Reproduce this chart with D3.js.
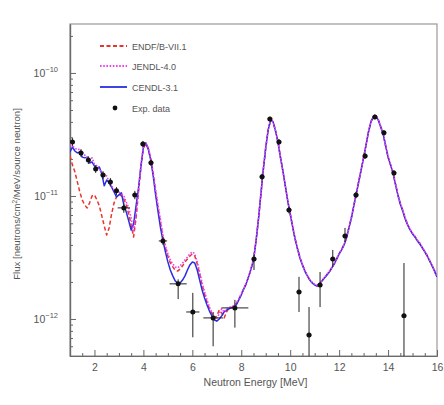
<!DOCTYPE html>
<html>
<head>
<meta charset="utf-8">
<script src="https://cdn.jsdelivr.net/npm/d3@7"></script>
<style>
  html, body { margin: 0; padding: 0; background: #fff; }
  svg { display: block; }
  text { font-family: "Liberation Sans", Arial, sans-serif; fill: #555; }
</style>
</head>
<body>
<svg id="chart" width="444" height="405"></svg>
<script>
// Flux values are given in units of 1e-12 neutrons/cm²/MeV/source neutron.
const FLUX_UNIT = 1e-12;

// Neutron energy grid of the calculated spectra [MeV]
const energy = [
  1.0,1.1,1.2,1.3,1.4,1.5,1.6,1.7,1.8,1.9,
  2.0,2.1,2.2,2.3,2.4,2.5,2.6,2.7,2.8,2.9,
  3.0,3.1,3.2,3.3,3.4,3.5,3.6,3.7,3.8,3.9,
  4.0,4.1,4.2,4.3,4.4,4.5,4.6,4.7,4.8,4.9,
  5.0,5.1,5.2,5.3,5.4,5.5,5.6,5.7,5.8,5.9,
  6.0,6.1,6.2,6.3,6.4,6.5,6.6,6.7,6.8,6.9,
  7.0,7.1,7.2,7.3,7.4,7.5,7.6,7.7,7.8,7.9,
  8.0,8.1,8.2,8.3,8.4,8.5,8.6,8.7,8.8,8.9,
  9.0,9.1,9.2,9.3,9.4,9.5,9.6,9.7,9.8,9.9,
  10.0,10.1,10.2,10.3,10.4,10.5,10.6,10.7,10.8,10.9,
  11.0,11.1,11.2,11.3,11.4,11.5,11.6,11.7,11.8,11.9,
  12.0,12.1,12.2,12.3,12.4,12.5,12.6,12.7,12.8,12.9,
  13.0,13.1,13.2,13.3,13.4,13.5,13.6,13.7,13.8,13.9,
  14.0,14.1,14.2,14.3,14.4,14.5,14.6,14.7,14.8,14.9,
  15.0,15.1,15.2,15.3,15.4,15.5,15.6,15.7,15.8,15.9,
  16.0
];

// ENDF/B-VII.1
const fluxENDF = [
  21.1,17.9,15.7,13.0,10.8,9.28,8.45,7.99,8.77,10.0,
  10.2,9.28,8.3,6.88,5.70,4.82,5.50,7.14,8.77,9.8,
  10.4,10.0,9.46,8.45,7.14,5.81,4.64,6.62,10.8,17.2,
  24.6,26.5,24.1,20.0,15.1,10.8,7.99,6.03,4.64,3.78,
  3.25,2.85,2.65,2.50,2.45,2.55,2.70,2.91,3.07,3.25,
  3.38,3.25,2.80,2.32,1.89,1.60,1.37,1.21,1.10,1.02,
  1.06,1.18,1.12,1.02,1.14,1.23,1.24,1.27,1.33,1.45,
  1.58,1.76,1.94,2.21,2.56,3.03,4.25,6.4,10.2,16.3,
  24.6,34.5,41.6,40.1,33.9,27.6,20.7,16.0,12.1,9.15,
  7.16,5.62,4.48,3.72,3.14,2.76,2.46,2.25,2.08,1.97,
  1.9,1.86,1.94,2.05,2.16,2.29,2.42,2.61,2.81,3.08,
  3.39,3.65,4.01,4.56,5.51,6.63,8.32,10.45,13.05,16.35,
  20.45,26.05,33.2,40.1,44.0,44.8,41.6,36.5,32.0,25.6,
  20.8,18.0,15.5,12.6,10.25,8.65,7.6,6.55,5.85,5.32,
  4.94,4.67,4.34,4.1,3.8,3.53,3.27,2.98,2.72,2.46,
  2.21
];

// JENDL-4.0
const fluxJENDL = [
  26.0,25.5,24.6,23.7,24.1,21.95,21.5,20.4,19.6,20.4,
  18.2,17.5,16.3,15.7,14.3,14.55,13.0,12.1,11.2,11.0,
  10.8,10.4,10.0,8.93,7.99,6.62,5.10,7.01,11.2,17.9,
  25.0,27.0,24.6,20.4,15.4,11.2,8.3,6.38,4.73,3.92,
  3.38,3.02,2.80,2.65,2.60,2.70,2.85,3.02,3.19,3.38,
  3.51,3.38,2.91,2.41,1.96,1.66,1.43,1.25,1.12,1.04,
  1.02,1.10,1.21,1.14,1.21,1.25,1.25,1.28,1.35,1.46,
  1.60,1.77,1.95,2.22,2.58,3.05,4.3,6.45,10.3,16.4,
  24.8,34.6,41.8,40.2,33.9,27.7,20.8,16.1,12.2,9.2,
  7.2,5.65,4.5,3.74,3.16,2.77,2.47,2.26,2.09,1.98,
  1.91,1.88,1.95,2.07,2.18,2.31,2.44,2.63,2.83,3.1,
  3.4,3.66,4.03,4.58,5.52,6.65,8.35,10.5,13.1,16.4,
  20.5,26.1,33.3,40.3,44.2,45.0,41.8,36.7,32.2,25.7,
  20.9,18.1,15.6,12.7,10.3,8.7,7.65,6.6,5.9,5.36,
  4.97,4.7,4.37,4.13,3.83,3.55,3.29,3.0,2.74,2.48,
  2.23
];

// CENDL-3.1
const fluxCENDL = [
  22.8,25.0,23.2,22.4,22.8,20.7,20.4,20.7,18.55,18.9,
  17.5,16.9,17.2,15.1,12.1,13.5,12.8,11.8,10.8,9.8,
  10.2,10.6,8.45,7.41,6.27,5.29,5.92,8.3,11.6,17.5,
  25.0,27.0,24.1,19.6,14.55,10.2,7.41,5.5,4.31,3.51,
  2.91,2.50,2.24,2.04,1.96,1.96,2.07,2.24,2.50,2.75,
  2.91,2.85,2.50,2.07,1.72,1.48,1.30,1.16,1.06,0.98,
  0.96,1.0,1.06,1.14,1.18,1.21,1.23,1.25,1.30,1.43,
  1.57,1.75,1.93,2.20,2.55,3.02,4.23,6.38,10.2,16.3,
  24.6,34.4,41.5,40.0,33.8,27.5,20.7,16.0,12.1,9.1,
  7.14,5.60,4.47,3.71,3.13,2.75,2.45,2.24,2.07,1.96,
  1.89,1.85,1.93,2.04,2.15,2.28,2.41,2.60,2.80,3.07,
  3.38,3.64,4.0,4.55,5.50,6.62,8.3,10.4,13.0,16.3,
  20.4,26.0,33.1,40.0,43.9,44.7,41.5,36.4,31.9,25.5,
  20.7,17.9,15.4,12.5,10.2,8.6,7.55,6.50,5.81,5.29,
  4.91,4.64,4.31,4.07,3.78,3.51,3.25,2.96,2.70,2.45,
  2.20
];

// Measured spectrum: energy, flux, flux error limits and energy half-width
const expEnergy = [1.1,1.45,1.75,2.05,2.35,2.65,2.9,3.2,3.65,3.98,4.31,4.8,5.42,6.02,6.85,7.74,
                   8.52,8.85,9.17,9.54,9.95,10.36,10.77,11.22,11.74,12.24,12.69,13.06,13.46,13.83,14.24,14.65];
const expFlux   = [27.5,22.4,19.6,16.6,14.8,13.0,11.0,8.0,10.2,26.5,18.6,4.31,1.93,1.14,1.02,1.23,
                   3.07,14.3,42.3,27.5,7.7,1.66,0.74,1.89,3.07,4.73,10.2,21.1,43.9,32.6,15.4,1.06];
const expFluxLo = [25.5,20.8,18.2,15.4,13.7,12.0,10.2,7.3,9.4,25.0,17.5,4.0,1.45,0.71,0.6,0.85,
                   2.5,13.4,40.5,26.0,7.2,1.14,0.4,1.25,2.65,4.23,9.6,20.0,42.0,31.0,14.6,0.4];
const expFluxHi = [29.5,24.0,21.0,17.8,15.9,14.0,11.8,8.7,11.0,28.0,19.7,4.6,2.1,1.63,1.14,1.43,
                   3.3,15.2,44.0,29.0,8.2,2.2,1.25,2.41,3.64,5.5,10.8,22.2,46.0,34.2,16.2,2.85];
const expEHalf  = [0.1,0.1,0.1,0.1,0.1,0.1,0.1,0.25,0.1,0.1,0.1,0.17,0.35,0.27,0.4,0.55,
                   0.1,0.1,0.1,0.1,0.1,0.1,0.1,0.1,0.1,0.1,0.1,0.1,0.1,0.1,0.1,0.1];

// Axis ticks
const xMajorTicks = [2, 4, 6, 8, 10, 12, 14, 16];
const xMinorTicks = [1.5, 2.5, 3, 3.5, 4.5, 5, 5.5, 6.5, 7, 7.5, 8.5, 9, 9.5, 10.5, 11, 11.5,
                     12.5, 13, 13.5, 14.5, 15, 15.5];
const yMajorTicks = [1e-12, 1e-11, 1e-10];
const yMajorExponents = ["\u221212", "\u221211", "\u221210"];

const series = [
  { name: "ENDF/B-VII.1", values: fluxENDF,  color: "#e8352c", width: 1.5, dash: "4,2.5" },
  { name: "JENDL-4.0",    values: fluxJENDL, color: "#f040f0", width: 1.6, dash: "1.6,1.6" },
  { name: "CENDL-3.1",    values: fluxCENDL, color: "#2a2ee0", width: 1.5, dash: null }
];
// Drawing order: red dashes at the bottom, magenta dots over the blue line
const drawOrder = [0, 2, 1];

const svg = d3.select("#chart");
const plotLeft = 70, plotRight = 437, plotTop = 24, plotBottom = 356;

const x = d3.scaleLinear().domain([1, 16]).range([plotLeft, plotRight]);
const y = d3.scaleLog().domain([5e-13, 2.5e-10]).range([plotBottom, plotTop]);

svg.append("rect").attr("width", 444).attr("height", 405).attr("fill", "#fff");

svg.append("defs").append("clipPath").attr("id", "plot-clip")
  .append("rect").attr("x", plotLeft).attr("y", plotTop)
  .attr("width", plotRight - plotLeft).attr("height", plotBottom - plotTop);

// Frame
svg.append("rect")
  .attr("x", plotLeft).attr("y", plotTop)
  .attr("width", plotRight - plotLeft).attr("height", plotBottom - plotTop)
  .attr("fill", "none").attr("stroke", "#999").attr("stroke-width", 1.2);

// Bottom axis: major and minor ticks pointing inward
const xAxis = svg.append("g").attr("transform", `translate(0,${plotBottom})`)
  .call(d3.axisBottom(x).tickValues(xMajorTicks).tickSize(-6).tickSizeOuter(0).tickPadding(8)
    .tickFormat(d3.format("d")));
svg.append("g").attr("transform", `translate(0,${plotBottom})`)
  .call(d3.axisBottom(x).tickValues(xMinorTicks).tickSize(-3).tickSizeOuter(0).tickFormat(""));

// Left axis: decades with log minor ticks
const yMinorTicks = y.ticks().filter(v => !yMajorTicks.some(m => Math.abs(v / m - 1) < 1e-6));
svg.append("g").attr("transform", `translate(${plotLeft},0)`)
  .call(d3.axisLeft(y).tickValues(yMajorTicks).tickSize(-6).tickSizeOuter(0).tickFormat(""));
svg.append("g").attr("transform", `translate(${plotLeft},0)`)
  .call(d3.axisLeft(y).tickValues(yMinorTicks).tickSize(-3).tickSizeOuter(0).tickFormat(""));

svg.selectAll(".domain").attr("stroke", "#6a6a6a").attr("stroke-width", 1.2);
svg.selectAll(".tick line").attr("stroke", "#666").attr("stroke-width", 1);
xAxis.selectAll(".tick text")
  .style("font-family", "'Liberation Sans', Arial, sans-serif")
  .style("font-size", "10.5px").attr("fill", "#555");

// Power-of-ten labels
yMajorTicks.forEach((v, i) => {
  const t = svg.append("text")
    .attr("x", plotLeft - 12).attr("y", y(v) + 4)
    .attr("text-anchor", "end").style("font-size", "10.5px");
  t.append("tspan").text("10");
  t.append("tspan").attr("dy", -5).style("font-size", "7.5px").text(yMajorExponents[i]);
});

// Axis titles
svg.append("text")
  .attr("x", (plotLeft + plotRight) / 2 + 2).attr("y", 386)
  .attr("text-anchor", "middle").style("font-size", "10.5px")
  .text("Neutron Energy [MeV]");
svg.append("text")
  .attr("transform", `translate(20,${(plotTop + plotBottom) / 2 + 4}) rotate(-90)`)
  .attr("text-anchor", "middle").style("font-size", "9.6px")
  .html("Flux [neutrons/cm<tspan dy='-3' style='font-size:6.5px'>2</tspan><tspan dy='3'>/MeV/source neutron]</tspan>");

// Calculated spectra
const plot = svg.append("g").attr("clip-path", "url(#plot-clip)");
const line = d3.line()
  .x((d, i) => x(energy[i]))
  .y(d => y(d * FLUX_UNIT));

drawOrder.map(i => series[i]).forEach(s => {
  plot.append("path")
    .datum(s.values)
    .attr("d", line)
    .attr("fill", "none")
    .attr("stroke", s.color)
    .attr("stroke-width", s.width)
    .attr("stroke-dasharray", s.dash)
    .attr("stroke-linejoin", "round");
});

// Measured points with error bars
const expGroup = plot.append("g");
expEnergy.forEach((e, i) => {
  const cx = x(e), cy = y(expFlux[i] * FLUX_UNIT);
  expGroup.append("line")
    .attr("x1", cx).attr("x2", cx)
    .attr("y1", Math.min(plotBottom, y(expFluxLo[i] * FLUX_UNIT)))
    .attr("y2", y(expFluxHi[i] * FLUX_UNIT))
    .attr("stroke", "#222").attr("stroke-width", 1);
  expGroup.append("line")
    .attr("x1", x(e - expEHalf[i])).attr("x2", x(e + expEHalf[i]))
    .attr("y1", cy).attr("y2", cy)
    .attr("stroke", "#222").attr("stroke-width", 1);
  expGroup.append("circle")
    .attr("cx", cx).attr("cy", cy).attr("r", 2.5)
    .attr("fill", "#111");
});

// Legend
const legend = svg.append("g");
const legendY = [46, 66, 87, 108];
series.forEach((s, i) => {
  legend.append("line")
    .attr("x1", 100).attr("x2", 127)
    .attr("y1", legendY[i]).attr("y2", legendY[i])
    .attr("stroke", s.color).attr("stroke-width", s.width + 0.3)
    .attr("stroke-dasharray", s.dash);
  legend.append("text")
    .attr("x", 132).attr("y", legendY[i] + 3.5)
    .style("font-size", "9px").text(s.name);
});
legend.append("circle").attr("cx", 115).attr("cy", legendY[3]).attr("r", 2.4).attr("fill", "#111");
legend.append("text").attr("x", 132).attr("y", legendY[3] + 3.5)
  .style("font-size", "9px").text("Exp. data");
</script>
</body>
</html>
